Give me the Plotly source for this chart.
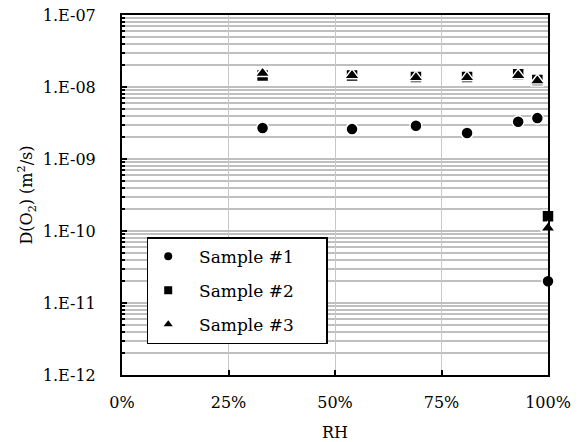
import plotly.graph_objects as go

rh = [0.33, 0.54, 0.69, 0.81, 0.93, 0.975, 1.0]
sample1 = [2.7e-9, 2.6e-9, 2.9e-9, 2.3e-9, 3.3e-9, 3.7e-9, 2.0e-11]
sample2 = [1.45e-8, 1.45e-8, 1.38e-8, 1.38e-8, 1.5e-8, 1.25e-8, 1.6e-10]
sample3 = [1.55e-8, 1.45e-8, 1.35e-8, 1.35e-8, 1.45e-8, 1.22e-8, 1.1e-10]
names = ["Sample #1", "Sample #2", "Sample #3"]
symbols = ["circle", "square", "triangle-up"]
x_ticks = [0, 0.25, 0.5, 0.75, 1.0]
x_tick_labels = ["0%", "25%", "50%", "75%", "100%"]
y_ticks = [1e-12, 1e-11, 1e-10, 1e-9, 1e-8, 1e-7]
y_tick_labels = ["1.E-12", "1.E-11", "1.E-10", "1.E-09", "1.E-08", "1.E-07"]

FONT = "DejaVu Serif"
NB = "\u00a0"
fig = go.Figure()
for i, (name, ys, sym) in enumerate(zip(names, [sample1, sample2, sample3], symbols)):
    fig.add_trace(go.Scatter(
        x=rh, y=ys, mode="markers", name=name, showlegend=False,
        marker=dict(symbol=sym, size=12 if sym != "triangle-up" else 13, color="black",
                    line=dict(color="white", width=1.5)),
        cliponaxis=False,
    ))
for i, (name, sym) in enumerate(zip(names, symbols)):
    fig.add_trace(go.Scatter(
        x=[None], y=[None], mode="markers", name=NB * 2 + name + NB * 5,
        legendgroup=f"g{i}",
        marker=dict(symbol=sym, size=8, color="black"),
    ))

fig.update_layout(
    width=578, height=442,
    margin=dict(l=122, r=30, t=15, b=67),
    paper_bgcolor="white", plot_bgcolor="white",
    font=dict(family=FONT, size=15, color="black"),
    showlegend=True,
    legend=dict(x=0.058, y=0.383, xanchor="left", yanchor="top",
                bordercolor="black", borderwidth=1.5, bgcolor="white",
                font=dict(family=FONT, size=17), itemsizing="trace",
                tracegroupgap=9),
    xaxis=dict(
        range=[0, 1.0], tickvals=x_ticks, ticktext=x_tick_labels,
        tickfont=dict(size=16), ticklabelstandoff=12, automargin=False,
        showgrid=True, gridcolor="#c8c8c8", gridwidth=1,
        showline=True, linecolor="black", linewidth=2, mirror=True,
        ticks="inside", ticklen=5, tickcolor="black", tickwidth=2,
        title=dict(text="RH", standoff=16, font=dict(size=16)), zeroline=False,
    ),
    yaxis=dict(
        type="log", range=[-12, -7], tickvals=y_ticks, ticktext=y_tick_labels,
        tickfont=dict(size=16), ticklabelstandoff=21, automargin=False,
        showgrid=True, gridcolor="#bfbfbf", gridwidth=1.5,
        showline=True, linecolor="black", linewidth=2, mirror=True,
        ticks="inside", ticklen=5, tickcolor="black", tickwidth=2,
        minor=dict(dtick="D1", showgrid=True, gridcolor="#bfbfbf", gridwidth=1.5,
                   ticks="inside", ticklen=3, tickcolor="black", tickwidth=1.5),
        title=dict(text="D(O<sub>2</sub>) (m<sup>2</sup>/s)", standoff=6,
                   font=dict(size=16)),
        zeroline=False,
    ),
)
fig.write_html("out.html", config={"displayModeBar": False},
               post_script="document.body.style.margin='0';")
